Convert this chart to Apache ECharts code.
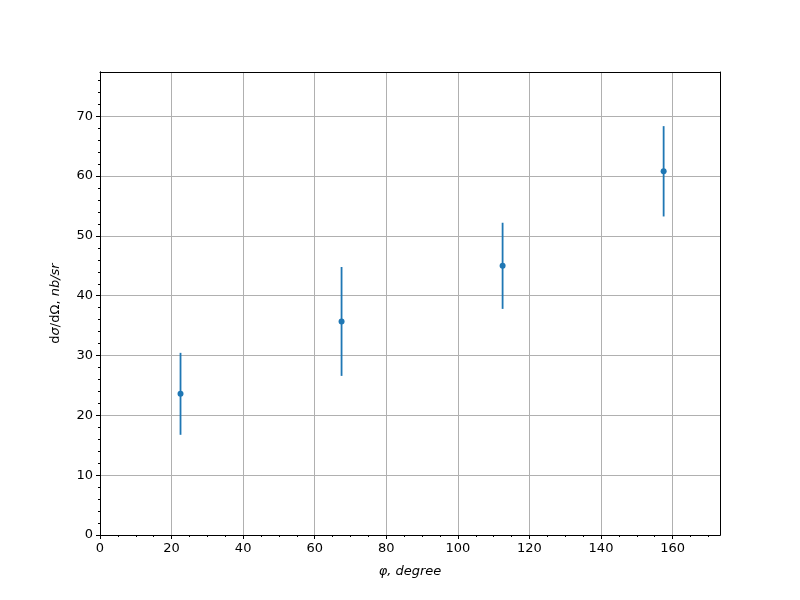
<!DOCTYPE html>
<html><head><meta charset="utf-8">
<script src="https://cdn.jsdelivr.net/npm/echarts@6/dist/echarts.min.js"></script>
<style>html,body{margin:0;padding:0;background:#fff}#c{width:800px;height:600px}</style>
</head><body><div id="c"></div>
<script>
const phi = [22.5, 67.5, 112.5, 157.5];
const sigma = [23.6, 35.7, 45.0, 60.8];
const sigmaErr = [6.85, 9.1, 7.2, 7.55];
const xMajor = [0, 20, 40, 60, 80, 100, 120, 140, 160];
const yMajor = [0, 10, 20, 30, 40, 50, 60, 70];
const X_MAX = 173.25, Y_MAX = 77.4;

const xMinor = [];
for (let v = 0; v <= X_MAX; v += 5) if (v % 20 !== 0) xMinor.push(v);
const yMinor = [];
for (let v = 0; v <= Y_MAX; v += 2) if (v % 10 !== 0) yMinor.push(v);

const font = 'DejaVu Sans';
const color = '#1f77b4';
const baseAxis = { min: 0, type: 'value', splitLine: { show: false }, axisLine: { show: true, onZero: false, lineStyle: { color: '#000', width: 1 } } };

const chart = echarts.init(document.getElementById('c'));
chart.setOption({
  animation: false,
  grid: { left: 100, right: 80, top: 72, bottom: 65 },
  xAxis: [
    Object.assign({}, baseAxis, {
      max: X_MAX, position: 'bottom', interval: 20,
      name: 'φ, degree', nameLocation: 'middle', nameGap: 30,
      nameTextStyle: { fontFamily: font, fontSize: 13, fontStyle: 'italic', color: '#000' },
      splitLine: { show: true, lineStyle: { color: '#b0b0b0', width: 1 } },
      axisTick: { show: true, customValues: xMajor, length: 4, lineStyle: { color: '#000' } },
      axisLabel: { customValues: xMajor, margin: 7, fontFamily: font, fontSize: 13, color: '#000' }
    }),
    Object.assign({}, baseAxis, {
      max: X_MAX, position: 'bottom',
      axisTick: { show: true, customValues: xMinor, length: 2, lineStyle: { color: '#000' } },
      axisLabel: { show: false }
    }),
    Object.assign({}, baseAxis, {
      max: X_MAX, position: 'top', axisTick: { show: false }, axisLabel: { show: false }
    })
  ],
  yAxis: [
    Object.assign({}, baseAxis, {
      max: Y_MAX, position: 'left', interval: 10,
      name: '{u|d}{i|σ}{u|/dΩ, }{i|nb/sr}', nameLocation: 'middle', nameGap: 38, nameRotate: 90,
      nameTextStyle: { rich: {
        u: { fontFamily: font, fontSize: 13, color: '#000' },
        i: { fontFamily: font, fontSize: 13, fontStyle: 'italic', color: '#000' } } },
      splitLine: { show: true, lineStyle: { color: '#b0b0b0', width: 1 } },
      axisTick: { show: true, customValues: yMajor, length: 4, lineStyle: { color: '#000' } },
      axisLabel: { customValues: yMajor, margin: 7, fontFamily: font, fontSize: 13, color: '#000' }
    }),
    Object.assign({}, baseAxis, {
      max: Y_MAX, position: 'left',
      axisTick: { show: true, customValues: yMinor, length: 2, lineStyle: { color: '#000' } },
      axisLabel: { show: false }
    }),
    Object.assign({}, baseAxis, {
      max: Y_MAX, position: 'right', axisTick: { show: false }, axisLabel: { show: false }
    })
  ],
  series: [
    {
      type: 'custom',
      xAxisIndex: 0, yAxisIndex: 0,
      data: phi.map((x, i) => [x, sigma[i], sigmaErr[i]]),
      renderItem: function (params, api) {
        const x = api.value(0), y = api.value(1), e = api.value(2);
        const p1 = api.coord([x, y - e]);
        const p2 = api.coord([x, y + e]);
        return { type: 'line', shape: { x1: p1[0], y1: p1[1], x2: p2[0], y2: p2[1] },
                 style: { stroke: color, lineWidth: 1.8, opacity: 1 } };
      },
      z: 3
    },
    {
      type: 'scatter',
      xAxisIndex: 0, yAxisIndex: 0,
      data: phi.map((x, i) => [x, sigma[i]]),
      symbol: 'circle', symbolSize: 6,
      itemStyle: { color: color, opacity: 1 },
      z: 4
    }
  ]
});
</script></body></html>
